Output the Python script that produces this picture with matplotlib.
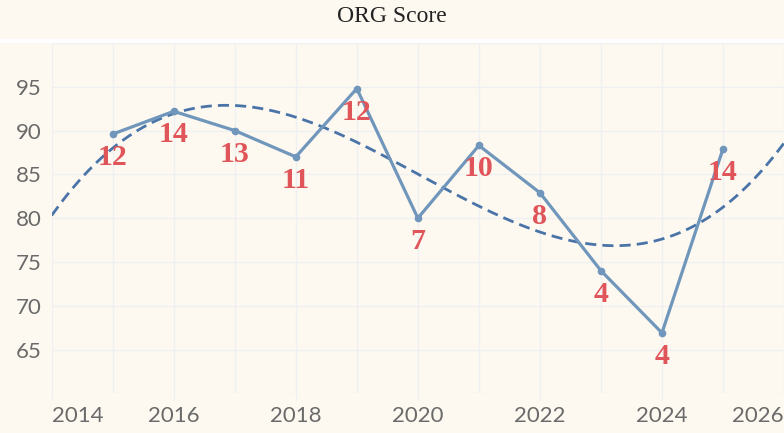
import numpy as np
import matplotlib
matplotlib.use("Agg")
import matplotlib.pyplot as plt

# data
years = [2015, 2016, 2017, 2018, 2019, 2020, 2021, 2022, 2023, 2024, 2025]
scores = [89.6, 92.2, 90.0, 87.0, 94.8, 80.0, 88.3, 82.9, 74.0, 66.9, 87.9]
ranks = [12, 14, 13, 11, 12, 7, 10, 8, 4, 4, 14]
xticks = [2014, 2016, 2018, 2020, 2022, 2024, 2026]
yticks = [65, 70, 75, 80, 85, 90, 95]

bg = "#fdf9f1"
gridColor = "#eef0f2"
lineColor = "#7096bb"
trendColor = "#4a74a8"
labelColor = "#e0555a"
tickColor = "#6a6a6a"

fig = plt.figure(figsize=(7.84, 4.33), dpi=100, facecolor=bg)
ax = fig.add_axes([51.7 / 784, 39.7 / 433, 1 - 51.7 / 784, 350.3 / 433])
ax.set_facecolor(bg)

# white strip under the title band
fig.add_artist(plt.Line2D([0, 1], [1 - 40.5 / 433, 1 - 40.5 / 433], color="white", lw=3, transform=fig.transFigure))

ax.set_xlim(2014, 2026)
ax.set_ylim(60, 100)

# grid
for yr in range(2014, 2027):
    ax.axvline(yr, color=gridColor, lw=1, zorder=0)
for v in range(60, 101, 5):
    ax.axhline(v, color=gridColor, lw=1, zorder=0)

# cubic trend through the data
coef = np.polyfit(years, scores, 3)
xs = np.linspace(2014, 2026, 300)
ax.plot(xs, np.polyval(coef, xs), color=trendColor, lw=2, dashes=(4, 2.2), zorder=2)

ax.plot(years, scores, color=lineColor, lw=2.3, marker="o", ms=4.5, zorder=3)

for x, y, r in zip(years, scores, ranks):
    ax.annotate(str(r), (x, y), xytext=(0, -31), textcoords="offset pixels",
                ha="center", va="baseline", color=labelColor, fontsize=21.5,
                fontweight="bold", family="Liberation Serif", zorder=4)

for s in ax.spines.values():
    s.set_visible(False)

ax.set_yticks(yticks)
ax.set_yticklabels([str(v) for v in yticks], color=tickColor, fontsize=16, family="Lato")
ax.tick_params(axis="y", length=0, pad=7)

ax.set_xticks(xticks)
xlabels = ax.set_xticklabels([str(v) for v in xticks], color=tickColor, fontsize=16, family="Lato")
xlabels[0].set_ha("left")
xlabels[-1].set_ha("right")
ax.tick_params(axis="x", length=5, color=gridColor, pad=4)

fig.text(0.5, 1 - 17 / 433, "ORG Score", ha="center", va="center",
         fontsize=17, family="Liberation Serif", color="#222222")

fig.savefig("out.png", dpi=100, facecolor=bg)
